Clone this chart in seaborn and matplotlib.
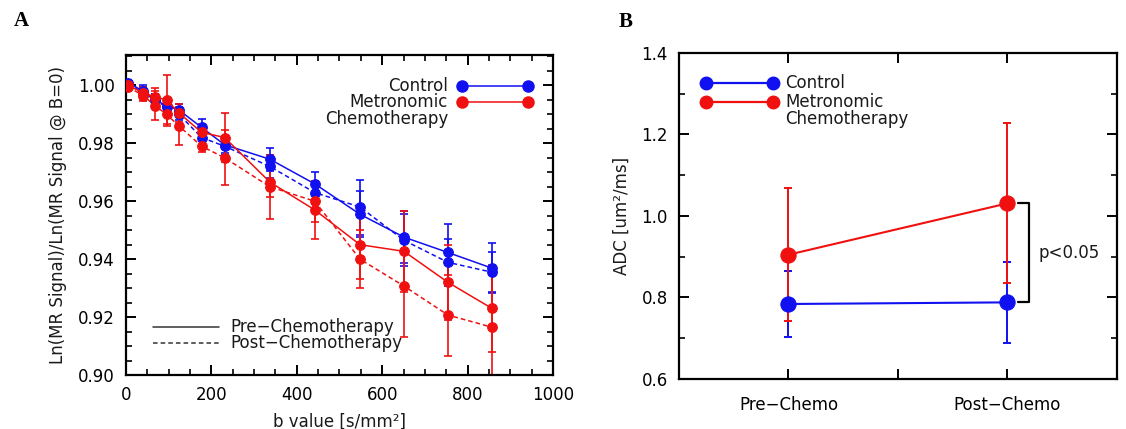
import numpy as np
import pandas as pd
import seaborn as sns
import matplotlib
matplotlib.use("Agg")
import matplotlib.pyplot as plt
from matplotlib.ticker import MultipleLocator

# ---- Panel A data: normalised log signal vs b value
b_values = [5, 40, 68, 95, 124, 177, 231, 337, 442, 548, 651, 754, 857]

ctrl_pre = [1.001, 0.998, 0.995, 0.993, 0.9915, 0.9855, 0.9795, 0.9745, 0.966, 0.9555, 0.9476, 0.9423, 0.9369]
ctrl_pre_err = [0.001, 0.002, 0.002, 0.002, 0.002, 0.003, 0.003, 0.004, 0.004, 0.008, 0.009, 0.010, 0.0086]
ctrl_post = [1.0005, 0.9975, 0.995, 0.9925, 0.990, 0.982, 0.979, 0.972, 0.963, 0.958, 0.9465, 0.9389, 0.9355]
ctrl_post_err = [0.001, 0.002, 0.002, 0.002, 0.002, 0.003, 0.003, 0.004, 0.004, 0.0095, 0.009, 0.008, 0.007]

chemo_pre = [1.000, 0.9975, 0.996, 0.995, 0.9905, 0.9838, 0.982, 0.9666, 0.957, 0.945, 0.9427, 0.932, 0.923]
chemo_pre_err = [0.0015, 0.002, 0.003, 0.0085, 0.003, 0.003, 0.0085, 0.005, 0.010, 0.012, 0.014, 0.013, 0.015]
chemo_post = [0.9995, 0.9965, 0.993, 0.990, 0.986, 0.979, 0.975, 0.965, 0.960, 0.940, 0.9307, 0.9207, 0.9165]
chemo_post_err = [0.0015, 0.002, 0.005, 0.004, 0.0065, 0.002, 0.0095, 0.011, 0.007, 0.010, 0.0175, 0.014, 0.018]

# ---- Panel B data: ADC before / after
timepoints = ["Pre\u2212Chemo", "Post\u2212Chemo"]
adc_ctrl = [0.784, 0.788]
adc_ctrl_err = [0.080, 0.099]
adc_chemo = [0.905, 1.031]
adc_chemo_err = [0.163, 0.196]

BLUE = "#1010f0"
RED = "#f01010"
INK = "#1a1a1a"

sns.set_style("ticks", {"axes.edgecolor": "black", "text.color": INK,
                        "axes.labelcolor": INK, "xtick.color": "black", "ytick.color": "black"})
plt.rcParams['font.family'] = ['DejaVu Sans']
plt.rcParams['font.size'] = 12
plt.rcParams['axes.linewidth'] = 1.6
plt.rcParams['xtick.direction'] = 'in'
plt.rcParams['ytick.direction'] = 'in'

fig = plt.figure(figsize=(11.26, 4.29), dpi=100)
axA = fig.add_axes([0.1119, 0.1259, 0.3792, 0.7459])
axB = fig.add_axes([0.603, 0.1166, 0.389, 0.7599])

# long table for seaborn
rows = []
for grp, sess, vals, errs in [("Control", "Pre", ctrl_pre, ctrl_pre_err),
                              ("Control", "Post", ctrl_post, ctrl_post_err),
                              ("Chemo", "Pre", chemo_pre, chemo_pre_err),
                              ("Chemo", "Post", chemo_post, chemo_post_err)]:
    for b, v, e in zip(b_values, vals, errs):
        rows.append(dict(group=grp, session=sess, b=b, signal=v, err=e))
dfA = pd.DataFrame(rows)

pal = {"Control": BLUE, "Chemo": RED}
for grp in ["Control", "Chemo"]:
    for sess in ["Pre", "Post"]:
        d = dfA[(dfA.group == grp) & (dfA.session == sess)]
        axA.errorbar(d.b, d.signal, yerr=d.err, fmt="none", ecolor=pal[grp],
                     elinewidth=1.2, capsize=3, capthick=1.2, zorder=2)
    sns.lineplot(data=dfA[dfA.group == grp], x="b", y="signal", style="session",
                 dashes={"Pre": "", "Post": (3, 2)}, markers={"Pre": "o", "Post": "o"},
                 color=pal[grp], markeredgecolor=pal[grp], markersize=7, linewidth=1.1,
                 estimator=None, sort=False, legend=False, ax=axA, zorder=3)

axA.set_xlim(0, 1000)
axA.set_ylim(0.90, 1.0105)
axA.xaxis.set_major_locator(MultipleLocator(200))
axA.xaxis.set_minor_locator(MultipleLocator(50))
axA.yaxis.set_major_locator(MultipleLocator(0.02))
axA.yaxis.set_minor_locator(MultipleLocator(0.005))
axA.set_yticks(np.arange(0.90, 1.001, 0.02))
axA.set_yticklabels(["%.2f" % t for t in np.arange(0.90, 1.001, 0.02)])
axA.tick_params(which="both", top=True, right=True)
axA.tick_params(which="major", length=7, width=1.4, pad=8)
axA.tick_params(which="minor", length=4, width=1.2)
axA.set_xlabel("b value [s/mm\u00b2]", labelpad=6)
axA.set_ylabel("Ln(MR Signal)/Ln(MR Signal @ B=0)", labelpad=8)

# group legend (top right)
tr = axA.transAxes
axA.text(0.754, 0.903, "Control", transform=tr, ha="right", va="center", fontsize=12)
axA.text(0.754, 0.853, "Metronomic", transform=tr, ha="right", va="center", fontsize=12)
axA.text(0.754, 0.800, "Chemotherapy", transform=tr, ha="right", va="center", fontsize=12)
axA.plot([0.787, 0.941], [0.903, 0.903], color=BLUE, lw=1.1, marker="o", ms=8, transform=tr)
axA.plot([0.787, 0.941], [0.853, 0.853], color=RED, lw=1.1, marker="o", ms=8, transform=tr)
# line style legend (bottom left)
axA.plot([0.063, 0.218], [0.150, 0.150], color="#333333", lw=1.1, transform=tr)
axA.plot([0.063, 0.218], [0.100, 0.100], color="#333333", lw=1.1, ls=(0, (3, 2)), transform=tr)
axA.text(0.244, 0.150, "Pre\u2212Chemotherapy", transform=tr, va="center", fontsize=12)
axA.text(0.244, 0.100, "Post\u2212Chemotherapy", transform=tr, va="center", fontsize=12)

# ---- Panel B
dfB = pd.DataFrame({"x": [1, 3, 1, 3],
                    "adc": adc_ctrl + adc_chemo,
                    "err": adc_ctrl_err + adc_chemo_err,
                    "group": ["Control"] * 2 + ["Chemo"] * 2})
for grp in ["Control", "Chemo"]:
    d = dfB[dfB.group == grp]
    axB.errorbar(d.x, d.adc, yerr=d.err, fmt="none", ecolor=pal[grp],
                 elinewidth=1.4, capsize=3, capthick=1.4, zorder=2)
    sns.lineplot(data=d, x="x", y="adc", color=pal[grp], marker="o", markersize=11,
                 markeredgecolor=pal[grp], linewidth=1.5, estimator=None, legend=False,
                 ax=axB, zorder=3)

axB.set_xlim(0, 4)
axB.set_ylim(0.6, 1.4)
axB.set_xticks([1, 2, 3])
axB.set_xticklabels([timepoints[0], "", timepoints[1]])
axB.yaxis.set_major_locator(MultipleLocator(0.2))
axB.yaxis.set_minor_locator(MultipleLocator(0.1))
axB.set_yticks(np.arange(0.6, 1.41, 0.2))
axB.set_yticklabels(["%.1f" % t for t in np.arange(0.6, 1.41, 0.2)])
axB.tick_params(which="both", top=True, right=True)
axB.tick_params(which="major", length=7, width=1.4, pad=8)
axB.tick_params(axis="x", pad=12)
axB.tick_params(which="minor", length=4, width=1.2)
axB.set_xlabel("")
axB.set_ylabel("ADC [um\u00b2/ms]", labelpad=8)

trB = axB.transAxes
axB.plot([0.062, 0.215], [0.908, 0.908], color=BLUE, lw=1.6, marker="o", ms=9, transform=trB)
axB.plot([0.062, 0.215], [0.850, 0.850], color=RED, lw=1.6, marker="o", ms=9, transform=trB)
axB.text(0.242, 0.908, "Control", transform=trB, va="center", fontsize=12)
axB.text(0.242, 0.850, "Metronomic", transform=trB, va="center", fontsize=12)
axB.text(0.242, 0.798, "Chemotherapy", transform=trB, va="center", fontsize=12)

# significance bracket between post values
y_hi, y_lo = adc_chemo[1], adc_ctrl[1]
axB.plot([3.1, 3.2, 3.2, 3.1], [y_hi, y_hi, y_lo, y_lo], color="black", lw=1.6)
axB.text(3.28, (y_hi + y_lo) / 2, "p<0.05", va="center", fontsize=12)

fig.text(0.012, 0.95, "A", fontsize=15, fontweight="bold", family="Liberation Serif",
         va="center", color="black")
fig.text(0.549, 0.948, "B", fontsize=15, fontweight="bold", family="Liberation Serif",
         va="center", color="black")

fig.savefig("out.png", dpi=100)
